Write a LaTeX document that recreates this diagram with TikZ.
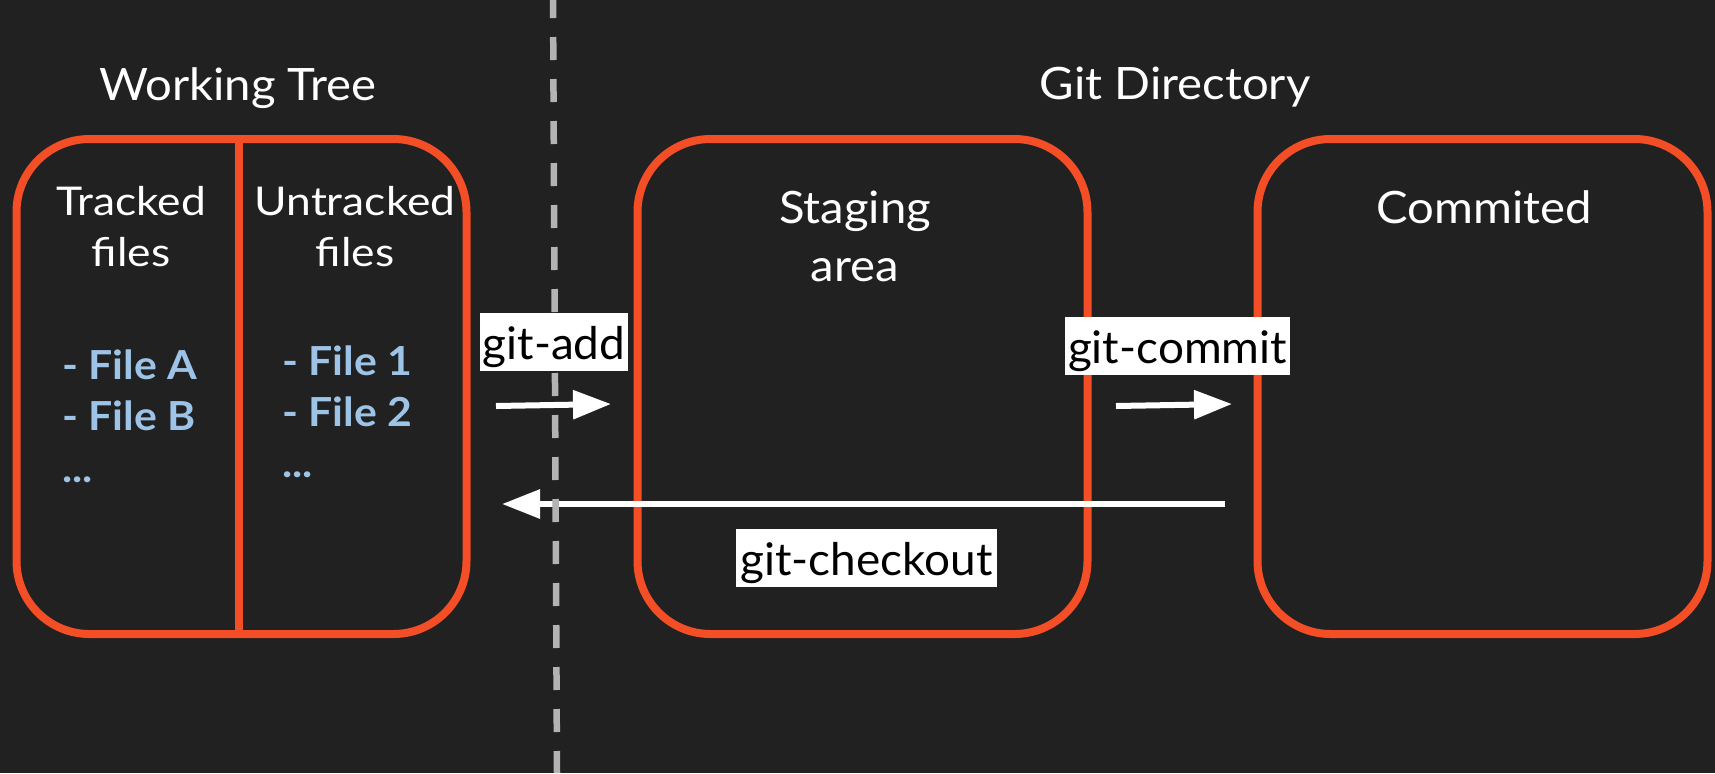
\documentclass[tikz,border=0pt]{standalone}
\usepackage{fontspec}
\setmainfont{Lato}
\newfontfamily\headfont[FakeStretch=1.06]{Lato}
\newfontfamily\subfont[FakeStretch=1.12]{Lato}
\newfontfamily\itemfont[FakeStretch=1.07]{Lato}
\newfontfamily\cmdfont[FakeStretch=1.02]{Lato}
\usetikzlibrary{arrows.meta}
\definecolor{bg}{HTML}{212121}
\definecolor{boxred}{HTML}{F34E26}
\definecolor{filesblue}{HTML}{9DC3E6}
\definecolor{dashgray}{HTML}{B3B3B3}
\begin{document}
\begin{tikzpicture}[x=0.5pt,y=-0.5pt,
  area/.style={draw=boxred,line width=4pt,rounded corners=36.5pt,
    minimum width=225pt,minimum height=247.5pt,inner sep=0pt},
  heading/.style={text=white,inner sep=0pt,font=\headfont\fontsize{22.3pt}{26pt}\selectfont},
  subhead/.style={text=white,inner sep=0pt,font=\subfont\fontsize{19.8pt}{23pt}\selectfont},
  fileitem/.style={text=filesblue,inner sep=0pt,font=\itemfont\bfseries\fontsize{20pt}{24pt}\selectfont},
  cmdlabel/.style={fill=white,text=black,inner xsep=1.5pt,inner ysep=0pt,
    minimum height=29pt,text height=21pt,text depth=4pt,
    font=\cmdfont\fontsize{22.5pt}{26pt}\selectfont},
  flow/.style={draw=white,line width=3pt,-{Triangle[length=19pt,width=14pt]}},
  divide/.style={draw=dashgray,line width=3.25pt,dash pattern=on 11.5pt off 9.5pt}]

% canvas
\fill[bg] (0,0) rectangle (1715,773);
\useasboundingbox (0,0) rectangle (1715,773);

% the three areas
\node[area] (wt) at (241.5,386.5) {};
\node[area] (st) at (862.5,386.5) {};
\node[area] (cm) at (1482.5,386.5) {};
\draw[boxred,line width=3.75pt] ([xshift=-1.25pt]wt.north) -- ([xshift=-1.25pt]wt.south);

% headings above the areas
\node[heading,anchor=base] (wtname) at (238,100) {Working Tree};
\node[heading,anchor=base] (gdname) at (1175,99) {Git Directory};

% working tree columns
\node[subhead,anchor=base] (trk1) at (131,215) {Tracked};
\node[subhead,anchor=base] (trk2) at (131,266) {files};
\node[subhead,anchor=base] (utr1) at (355,215) {Untracked};
\node[subhead,anchor=base] (utr2) at (355,266) {files};

\node[fileitem,anchor=base west] (fa) at (62,379) {- File A};
\node[fileitem,anchor=base west] (fb) at (62,430) {- File B};
\node[fileitem,anchor=base west] (fdots) at (62,482) {...};
\node[fileitem,anchor=base west] (f1) at (282,375) {- File 1};
\node[fileitem,anchor=base west] (f2) at (282,426) {- File 2};
\node[fileitem,anchor=base west] (udots) at (282,477) {...};

% git directory areas
\node[heading,anchor=base] (stname1) at (855,223) {Staging};
\node[heading,anchor=base] (stname2) at (855,281) {area};
\node[heading,anchor=base] (cmname) at (1484,223) {Commited};

% flows between areas
\coordinate (addS) at (496,406);
\coordinate (addE) at (611,404);
\coordinate (comS) at (1116,406);
\coordinate (comE) at (1232,404);
\coordinate (coS) at (1225,504);
\coordinate (coE) at (502,504);
\draw[flow] (addS) -- (addE);
\draw[flow] (comS) -- (comE);
\draw[flow] (coS) -- (coE);

% boundary between working tree and repository
\coordinate (sepTop) at (553,-5);
\coordinate (sepBot) at (557,773);
\draw[divide] (sepTop) -- (sepBot);

% command labels
\node[cmdlabel,minimum width=74pt] (addlbl) at (554,342) {git-add};
\node[cmdlabel,minimum width=110.5pt] (comlbl) at (1177.5,346) {git-commit};
\node[cmdlabel,minimum width=130.5pt] (colbl) at (866.5,558) {git-checkout};
\end{tikzpicture}
\end{document}
